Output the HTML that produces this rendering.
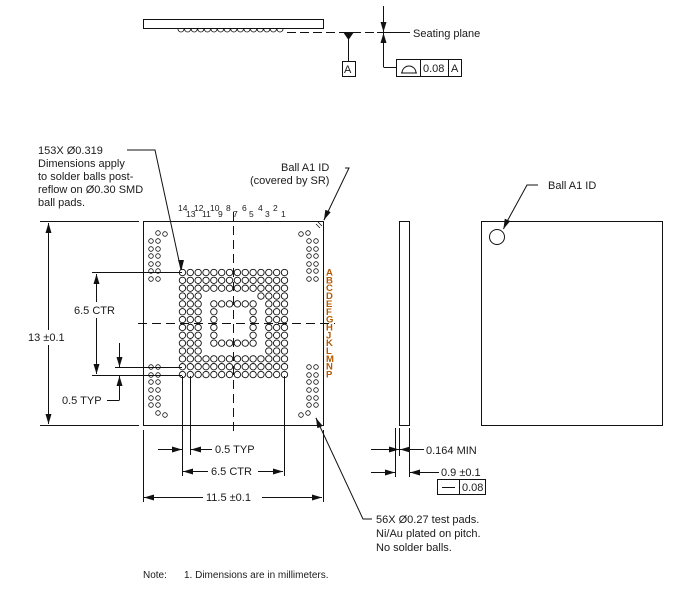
<!DOCTYPE html>
<html><head><meta charset="utf-8"><style>
html,body{margin:0;padding:0;background:#fff;}
svg{display:block;font-family:"Liberation Sans",sans-serif;}
text{fill:#1a1a1a;font-size:11px;}
</style></head><body>
<svg id="s" width="689" height="597" viewBox="0 0 689 597" xmlns="http://www.w3.org/2000/svg">
<defs>
<marker id="ar" viewBox="0 0 10 6" refX="10" refY="3" markerWidth="10" markerHeight="6" orient="auto-start-reverse" markerUnits="userSpaceOnUse"><path d="M0,0 L10,3 L0,6 z" fill="#111"/></marker>
</defs>
<g stroke="#111" stroke-width="1" fill="none">
<rect x="143.5" y="19.5" width="180" height="9"/>
<line x1="287" y1="32.5" x2="377" y2="32.5" stroke-dasharray="9,4"/>
<line x1="377" y1="32.5" x2="410" y2="32.5"/>
<line x1="348.5" y1="32" x2="348.5" y2="61"/>
<rect x="342.5" y="61.5" width="13" height="15"/>
<line x1="383.5" y1="6" x2="383.5" y2="32" marker-end="url(#ar)"/>
<line x1="383.5" y1="67" x2="383.5" y2="33" marker-end="url(#ar)"/>
<line x1="383.5" y1="67.5" x2="396" y2="67.5"/>
<rect x="396.5" y="59.5" width="65" height="17"/>
<line x1="420.5" y1="59" x2="420.5" y2="77"/>
<line x1="448.5" y1="59" x2="448.5" y2="77"/>
<path d="M401,73 L417,73 M402,73 A7,7 0 0 1 416,73"/>

<rect x="143.5" y="221.5" width="180" height="204"/>
<line x1="233.5" y1="212" x2="233.5" y2="432" stroke-dasharray="9,5"/>
<line x1="138" y1="323.5" x2="335" y2="323.5" stroke-dasharray="9,5"/>
<path d="M316,224 L320,228 M318,222 L322,226" stroke-width="0.8"/>

<line x1="40" y1="221.5" x2="139" y2="221.5"/>
<line x1="40" y1="425.5" x2="139" y2="425.5"/>
<line x1="48.5" y1="223" x2="48.5" y2="330" marker-start="url(#ar)"/>
<line x1="48.5" y1="345" x2="48.5" y2="424" marker-end="url(#ar)"/>
<line x1="92" y1="272.5" x2="182" y2="272.5"/>
<line x1="92" y1="375.5" x2="182" y2="375.5"/>
<line x1="115" y1="367.5" x2="182" y2="367.5"/>
<line x1="96.5" y1="274" x2="96.5" y2="302" marker-start="url(#ar)"/>
<line x1="96.5" y1="318" x2="96.5" y2="374" marker-end="url(#ar)"/>
<line x1="119.5" y1="343" x2="119.5" y2="367" marker-end="url(#ar)"/>
<line x1="119.5" y1="400" x2="119.5" y2="376" marker-end="url(#ar)"/>
<line x1="107" y1="400.5" x2="119.5" y2="400.5"/>

<line x1="143.5" y1="430" x2="143.5" y2="502"/>
<line x1="323.5" y1="430" x2="323.5" y2="502"/>
<line x1="182.5" y1="376" x2="182.5" y2="476"/>
<line x1="190.5" y1="376" x2="190.5" y2="455"/>
<line x1="284.5" y1="376" x2="284.5" y2="476"/>
<line x1="158" y1="449.5" x2="182" y2="449.5" marker-end="url(#ar)"/>
<line x1="212" y1="449.5" x2="191" y2="449.5" marker-end="url(#ar)"/>
<line x1="208" y1="471.5" x2="183" y2="471.5" marker-end="url(#ar)"/>
<line x1="258" y1="471.5" x2="283" y2="471.5" marker-end="url(#ar)"/>
<line x1="203" y1="497.5" x2="144" y2="497.5" marker-end="url(#ar)"/>
<line x1="262" y1="497.5" x2="322" y2="497.5" marker-end="url(#ar)"/>

<polyline points="127,150 155,150 181,270" />
<line x1="181" y1="260" x2="181.5" y2="270" marker-end="url(#ar)"/>
<polyline points="345,168 349,168 324,220"/>
<line x1="328" y1="211" x2="324" y2="220" marker-end="url(#ar)"/>
<polyline points="372,519 363,519 316,418"/>
<line x1="320" y1="427" x2="316" y2="418" marker-end="url(#ar)"/>

<rect x="399.5" y="221.5" width="10" height="204"/>
<line x1="395.5" y1="428" x2="395.5" y2="477"/>
<line x1="399.5" y1="428" x2="399.5" y2="456"/>
<line x1="409.5" y1="428" x2="409.5" y2="477"/>
<line x1="371" y1="449.5" x2="399" y2="449.5" marker-end="url(#ar)"/>
<line x1="424" y1="449.5" x2="400" y2="449.5" marker-end="url(#ar)"/>
<line x1="371" y1="472.5" x2="395" y2="472.5" marker-end="url(#ar)"/>
<line x1="439" y1="472.5" x2="410" y2="472.5" marker-end="url(#ar)"/>
<rect x="437.5" y="479.5" width="48" height="15"/>
<line x1="459.5" y1="479" x2="459.5" y2="495"/>
<line x1="442" y1="487.5" x2="455" y2="487.5"/>

<rect x="481.5" y="221.5" width="181" height="204"/>
<circle cx="497" cy="237" r="7.5"/>
<polyline points="538,185 527,185 504,227"/>
<line x1="507" y1="221" x2="503.5" y2="229" marker-end="url(#ar)"/>
<g id="balls" stroke-width="0.9"></g>
<g id="pads" stroke-width="0.8"></g>
<g id="topb" stroke-width="0.8"></g>
</g>
<path d="M343,32 L354,32 L348.5,40 z" fill="#111"/>

<text x="413" y="37">Seating plane</text>
<text x="344" y="73">A</text>
<text x="423" y="72">0.08</text>
<text x="451" y="72">A</text>

<text x="38" y="154">153X Ø0.319</text>
<text x="38" y="167">Dimensions apply</text>
<text x="38" y="180">to solder balls post-</text>
<text x="38" y="193">reflow on Ø0.30 SMD</text>
<text x="38" y="206">ball pads.</text>
<text x="281" y="171">Ball A1 ID</text>
<text x="250" y="184">(covered by SR)</text>
<text x="548" y="189">Ball A1 ID</text>

<g style="font-size:8.5px">
<text x="178" y="211" style="font-size:8.5px">14</text><text x="194" y="211" style="font-size:8.5px">12</text><text x="210" y="211" style="font-size:8.5px">10</text><text x="226" y="211" style="font-size:8.5px">8</text><text x="242" y="211" style="font-size:8.5px">6</text><text x="258" y="211" style="font-size:8.5px">4</text><text x="273" y="211" style="font-size:8.5px">2</text>
<text x="186" y="217" style="font-size:8.5px">13</text><text x="202" y="217" style="font-size:8.5px">11</text><text x="218" y="217" style="font-size:8.5px">9</text><text x="233" y="217" style="font-size:8.5px">7</text><text x="249" y="217" style="font-size:8.5px">5</text><text x="265" y="217" style="font-size:8.5px">3</text><text x="281" y="217" style="font-size:8.5px">1</text>
</g>
<g id="letters"></g>

<text x="28" y="341">13 ±0.1</text>
<text x="74" y="314">6.5 CTR</text>
<text x="62" y="404">0.5 TYP</text>
<text x="215" y="453">0.5 TYP</text>
<text x="211" y="475">6.5 CTR</text>
<text x="206" y="501">11.5 ±0.1</text>
<text x="426" y="454">0.164 MIN</text>
<text x="441" y="476">0.9 ±0.1</text>
<text x="462" y="491">0.08</text>
<text x="376" y="523">56X Ø0.27 test pads.</text>
<text x="376" y="537">Ni/Au plated on pitch.</text>
<text x="376" y="551">No solder balls.</text>
<text x="143" y="578" style="font-size:10px">Note:</text>
<text x="184" y="578" style="font-size:10px">1.  Dimensions are in millimeters.</text>
</svg>
<script>
var NS="http://www.w3.org/2000/svg";
function c(g,x,y,r){var e=document.createElementNS(NS,"circle");e.setAttribute("cx",x);e.setAttribute("cy",y);e.setAttribute("r",r);document.getElementById(g).appendChild(e);}
var rows="ABCDEFGHJKLMNP";
for(var r=0;r<14;r++){for(var col=1;col<=14;col++){
 var on=false;
 if(r<=2||r>=11)on=true;
 else{ if(col>=12||col<=3)on=true; if(r==3&&col==4)on=true;
  if(r>=4&&r<=9){ if(r==4||r==9){if(col>=5&&col<=10)on=true;} else if(col==5||col==10)on=true; } }
 if(on)c("balls",284.5-(col-1)*7.85,272.5+r*7.85,3.2);
}
 var t=document.createElementNS(NS,"text");t.setAttribute("x",326);t.setAttribute("y",275.5+r*7.85);t.style.fill="#b35a00";t.style.fontSize="9.5px";t.style.fontWeight="600";t.textContent=rows[r];document.getElementById("letters").appendChild(t);
}
var ys=[241,249,256,264,271,279],yb=[367,375,382,390,398,405];
ys.forEach(function(y){c("pads",151,y,2.3);c("pads",158,y,2.3);c("pads",309,y,2.3);c("pads",316,y,2.3);});
yb.forEach(function(y){c("pads",151,y,2.3);c("pads",158,y,2.3);c("pads",309,y,2.3);c("pads",316,y,2.3);});
[[158,233],[165,234],[301,234],[308,233],[158,413],[165,415],[301,415],[308,413]].forEach(function(p){c("pads",p[0],p[1],2.3);});
for(var i=0;i<16;i++){var x=181+i*6.6;var p=document.createElementNS(NS,"path");p.setAttribute("d","M"+(x-3)+",29 A3,3 0 0 0 "+(x+3)+",29");document.getElementById("topb").appendChild(p);}
</script>
</body></html>
